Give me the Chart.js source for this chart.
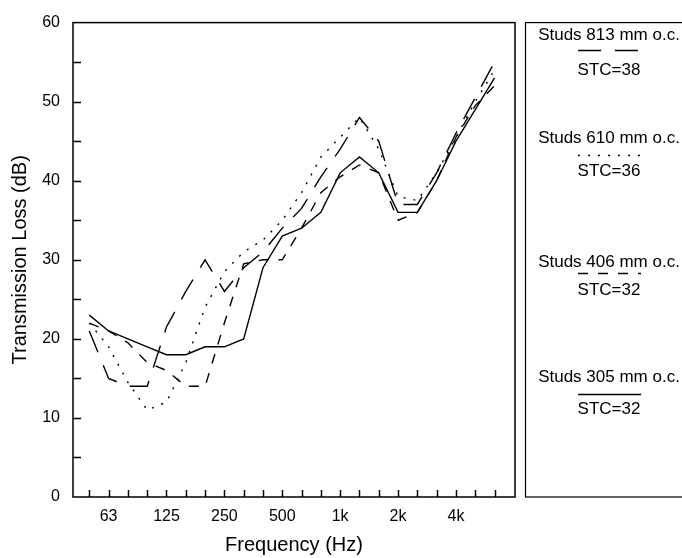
<!DOCTYPE html>
<html>
<head>
<meta charset="utf-8">
<script src="https://cdn.jsdelivr.net/npm/chart.js@4.4.1/dist/chart.umd.min.js"></script>
<style>
  html, body { margin: 0; padding: 0; background: #fff; }
  #wrap { position: relative; width: 682px; height: 558px; }
</style>
</head>
<body>
<div id="wrap"><canvas id="stc-chart" width="682" height="558"></canvas></div>
<script>
// ==================== Data ====================
// one-third octave bands, 50 Hz .. 6.3 kHz
const bands = ['50', '63', '80', '100', '125', '160', '200', '250', '315', '400', '500',
  '630', '800', '1k', '1.25k', '1.6k', '2k', '2.5k', '3.15k', '4k', '5k', '6.3k'];
const shownTicks = ['63', '125', '250', '500', '1k', '2k', '4k'];

const studs813 = [21, 15, 14, 14, 21.5, 26, 30, 26, 29, 31, 34, 36.5, 40.5, 44, 48, 45, 37, 37, 41, 46, 50.5, 55];
const studs610 = [22, 19, 14.5, 11, 12, 17, 24, 28.5, 31, 32.5, 35, 38.5, 43, 45.5, 48, 44, 38, 37.5, 41, 45.5, 50, 54];
const studs406 = [22, 21, 19.5, 17, 16, 14, 14, 22, 29.5, 30, 30, 34, 38.5, 40.5, 42, 41, 35, 36, 40, 45.5, 49.5, 52];
const studs305 = [23, 21, 20, 19, 18, 18, 19, 19, 20, 29, 33, 34, 36, 41, 43, 41, 36, 36, 40, 45, 49, 53];

const seriesNames = ['Studs 813 mm o.c.', 'Studs 610 mm o.c.', 'Studs 406 mm o.c.', 'Studs 305 mm o.c.'];
const stcLabels = ['STC=38', 'STC=36', 'STC=32', 'STC=32'];

const FONT = '"Liberation Sans", Arial, Helvetica, sans-serif';

function toPoints(arr) {
  return arr.map((v, i) => ({ x: i, y: v }));
}

function makeSet(label, values, dash) {
  return {
    label: label,
    data: toPoints(values),
    borderColor: '#000',
    borderWidth: 1.4,
    borderDash: dash,
    borderCapStyle: 'butt',
    pointRadius: 0,
    tension: 0,
    fill: false
  };
}

// ==================== Frame, inner ticks and side legend ====================
const legendY = [
  { name: 35, line: 50, stc: 70 },
  { name: 138, line: 155, stc: 171 },
  { name: 262, line: 273, stc: 290 },
  { name: 377, line: 394, stc: 409 }
];

const framePlugin = {
  id: 'frame',
  afterDraw(chart) {
    const { ctx, chartArea: a, scales: { x, y } } = chart;
    ctx.save();
    ctx.strokeStyle = '#000';
    ctx.lineWidth = 1.5;
    ctx.setLineDash([]);
    ctx.strokeRect(a.left, a.top, a.right - a.left, a.bottom - a.top);

    // inner ticks
    ctx.beginPath();
    for (let i = 0; i < bands.length; i++) {
      const px = Math.round(x.getPixelForValue(i)) + 0.5;
      ctx.moveTo(px, a.bottom);
      ctx.lineTo(px, a.bottom - 7);
    }
    for (let v = 5; v < 60; v += 5) {
      const py = Math.round(y.getPixelForValue(v)) + 0.5;
      ctx.moveTo(a.left, py);
      ctx.lineTo(a.left + 8, py);
    }
    ctx.stroke();

    // legend box
    const boxLeft = 525.5;
    ctx.lineWidth = 1.2;
    ctx.strokeRect(boxLeft, a.top, 200, a.bottom - a.top);

    const cx = 609;
    ctx.fillStyle = '#000';
    ctx.textAlign = 'center';
    ctx.textBaseline = 'middle';
    ctx.font = '17px ' + FONT;
    chart.data.datasets.forEach((ds, k) => {
      const pos = legendY[k];
      ctx.fillText(seriesNames[k], cx, pos.name);
      ctx.fillText(stcLabels[k], cx, pos.stc);
      ctx.beginPath();
      ctx.lineWidth = 1.4;
      ctx.setLineDash(ds.borderDash || []);
      ctx.moveTo(578, pos.line + 0.5);
      ctx.lineTo(641, pos.line + 0.5);
      ctx.stroke();
    });
    ctx.restore();
  }
};

// ==================== Chart ====================
const ctx = document.getElementById('stc-chart').getContext('2d');
const stcChart = new Chart(ctx, {
  type: 'line',
  data: {
    datasets: [
      makeSet(seriesNames[0], studs813, [23, 14]),
      makeSet(seriesNames[1], studs610, [2, 8]),
      makeSet(seriesNames[2], studs406, [10, 10]),
      makeSet(seriesNames[3], studs305, [])
    ]
  },
  options: {
    responsive: false,
    animation: false,
    devicePixelRatio: 1,
    layout: { padding: { left: 0, right: 167, top: 14, bottom: 0 } },
    plugins: {
      legend: { display: false },
      tooltip: { enabled: false }
    },
    scales: {
      x: {
        type: 'linear',
        min: -0.845,
        max: 22.06,
        border: { display: false },
        grid: { display: false, drawTicks: false },
        afterBuildTicks: (scale) => {
          scale.ticks = bands.map((b, i) => ({ value: i }));
        },
        afterFit: (scale) => { scale.height = 61; },
        ticks: {
          autoSkip: false,
          maxRotation: 0,
          padding: 10,
          color: '#000',
          font: { family: FONT, size: 16 },
          callback: (value) => {
            const b = bands[value];
            return shownTicks.includes(b) ? b : '';
          }
        },
        title: {
          display: true,
          text: 'Frequency (Hz)',
          color: '#000',
          font: { family: FONT, size: 20 },
          padding: { top: 0, bottom: 1 }
        }
      },
      y: {
        min: 0,
        max: 60,
        border: { display: false },
        grid: { display: false, drawTicks: false },
        afterFit: (scale) => { scale.width = 73; },
        ticks: {
          stepSize: 10,
          padding: 13,
          color: '#000',
          font: { family: FONT, size: 16 }
        },
        title: {
          display: true,
          text: 'Transmission Loss (dB)',
          color: '#000',
          font: { family: FONT, size: 20 },
          padding: { top: 8, bottom: 0 }
        }
      }
    }
  },
  plugins: [framePlugin]
});
</script>
</body>
</html>
